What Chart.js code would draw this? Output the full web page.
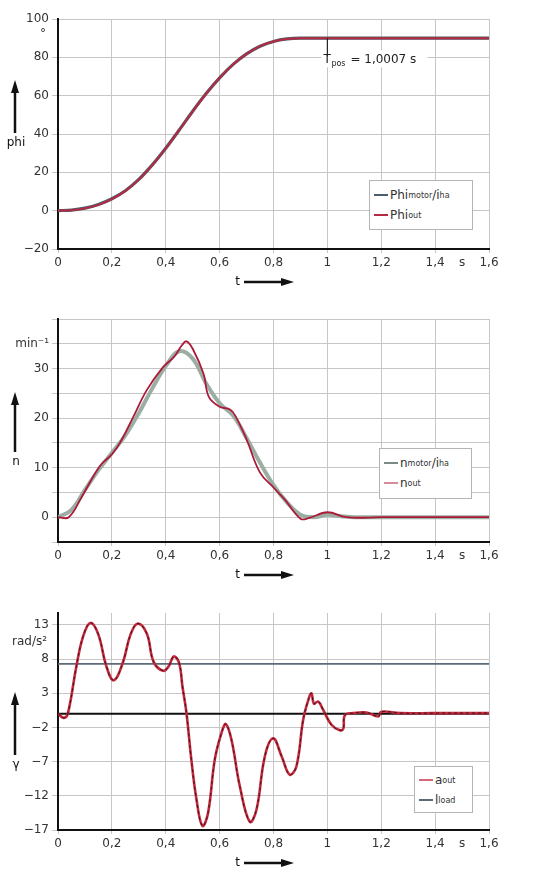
<!DOCTYPE html>
<html>
<head>
<meta charset="utf-8">
<script src="https://cdn.jsdelivr.net/npm/chart.js@4.4.1/dist/chart.umd.min.js"></script>
<style>
body { margin: 0; background: #fff; width: 534px; height: 888px; position: relative; overflow: hidden; font-family: "DejaVu Sans", sans-serif; }
.panel { position: absolute; left: 0; width: 534px; height: 296px; }
.legend { position: absolute; background: #fff; border: 1px solid #b4b4b4; font-size: 12px; color: #333; box-sizing: border-box; padding: 4px 4px; }
.legend div { display: flex; align-items: center; height: 20px; white-space: nowrap; }
.legend i { display: inline-block; width: 14px; height: 0; border-top: 2px solid; margin-right: 2px; }
.legend sub { font-size: 8px; }
</style>
</head>
<body>
<div class="panel" style="top:0"><canvas id="phiChart" width="534" height="296"></canvas></div>
<div class="panel" style="top:296px"><canvas id="nChart" width="534" height="296"></canvas></div>
<div class="panel" style="top:592px"><canvas id="aChart" width="534" height="296"></canvas></div>

<div class="legend" style="left:369px;top:180px;width:104px;height:50px">
  <div><i style="border-color:#4c5c6c"></i>Phi<sub>motor</sub>/i<sub>ha</sub></div>
  <div><i style="border-color:#b52a40"></i>Phi<sub>out</sub></div>
</div>
<div class="legend" style="left:379px;top:448px;width:93px;height:51px">
  <div><i style="border-color:#7b8a86"></i>n<sub>motor</sub>/i<sub>ha</sub></div>
  <div><i style="border-color:#d98a98"></i>n<sub>out</sub></div>
</div>
<div class="legend" style="left:414px;top:766px;width:59px;height:47px;padding:3px 4px">
  <div><i style="border-color:#d66a7a"></i>a<sub>out</sub></div>
  <div><i style="border-color:#5a6a78"></i>l<sub>load</sub></div>
</div>

<script>
// x axis (time, s)
const tTicks = [0, 0.2, 0.4, 0.6, 0.8, 1, 1.2, 1.4, 1.5, 1.6];
const tLabels = ['0', '0,2', '0,4', '0,6', '0,8', '1', '1,2', '1,4', 's', '1,6'];

// panel 1: position phi
const phiTicks = [-20, 0, 20, 40, 60, 80, 100];
const phiT = [0, 0.05, 0.1, 0.15, 0.2, 0.25, 0.3, 0.35, 0.4, 0.45, 0.5, 0.55, 0.6, 0.65, 0.7, 0.75, 0.8, 0.85, 0.9, 1.0, 1.2, 1.4, 1.6];
const phiMotor = [0, 0.3, 1.3, 3.2, 6.2, 10.4, 16.3, 23.9, 32.6, 42.1, 51.9, 61.1, 69.3, 76.3, 81.8, 85.8, 88.3, 89.6, 90, 90, 90, 90, 90];
const phiOut = [0, 0.2, 1.2, 3, 6, 10.3, 16.2, 23.8, 32.5, 42, 51.8, 61, 69.3, 76.3, 81.8, 85.8, 88.3, 89.6, 90, 90, 90, 90, 90];

// panel 2: speed n
const nTicks = [-5, 0, 5, 10, 15, 20, 25, 30, 35, 40];
const nMotorT = [0, 0.05, 0.1, 0.15, 0.2, 0.25, 0.3, 0.35, 0.4, 0.45, 0.5, 0.55, 0.6, 0.65, 0.7, 0.75, 0.8, 0.85, 0.9, 0.95, 1.0, 1.05, 1.1, 1.6];
const nMotor = [0, 1.5, 5.5, 9.5, 13, 16.5, 21, 26, 30.5, 33.5, 32, 27, 23, 20.5, 16, 11, 6.5, 3, 0.5, 0, 0.5, 0.2, 0, 0];
const nOutT = [0, 0.04, 0.09, 0.155, 0.2, 0.23, 0.28, 0.33, 0.39, 0.43, 0.46, 0.477, 0.5, 0.54, 0.56, 0.6, 0.64, 0.66, 0.7, 0.75, 0.8, 0.84, 0.9, 0.93, 1.0, 1.07, 1.2, 1.6];
const nOut = [0, 0, 4.3, 10.3, 12.7, 15, 20.3, 25.7, 30.3, 32.3, 34.7, 35.5, 34, 29, 24.3, 22.3, 21.7, 20.3, 15.7, 9, 6, 3.7, -0.3, -0.2, 1, 0, 0, 0];

// panel 3: acceleration
const aTicks = [-17, -12, -7, -2, 3, 8, 13];
const aT = [0, 0.022, 0.037, 0.068, 0.093, 0.12, 0.149, 0.18, 0.207, 0.24, 0.27, 0.297, 0.33, 0.355, 0.39, 0.41, 0.43, 0.45, 0.462, 0.477, 0.495, 0.514, 0.536, 0.557, 0.582, 0.607, 0.623, 0.644, 0.675, 0.712, 0.737, 0.768, 0.799, 0.83, 0.86, 0.885, 0.91, 0.929, 0.941, 0.95, 0.966, 0.984, 1.015, 1.046, 1.059, 1.065, 1.096, 1.145, 1.189, 1.2, 1.27, 1.39, 1.6];
const aOut = [0, -0.6, 0.1, 6.9, 11.3, 13.3, 11.7, 6.9, 4.9, 7.4, 11.7, 13.2, 11.7, 7.6, 6.3, 6.9, 8.4, 7.4, 4.0, 0.1, -6.7, -12.5, -16.4, -14.5, -6.7, -2.8, -1.5, -3.8, -10.6, -15.8, -14, -6.2, -3.6, -6.2, -8.9, -7.7, -0.9, 2.0, 3.0, 1.5, 1.8, 0.6, -1.6, -2.4, -2.2, -0.2, 0.1, 0.2, -0.4, 0.3, 0.1, 0.1, 0.1];
const loadT = [0, 1.6];
const lLoad = [7.3, 7.3];
const zeroLine = [0, 0];

const pts = (xs, ys) => xs.map((x, i) => ({ x: x, y: ys[i] }));
const FONT = '"DejaVu Sans", sans-serif';

function drawArrow(ctx, x1, y1, x2, y2) {
    const ang = Math.atan2(y2 - y1, x2 - x1);
    ctx.lineWidth = 2.5;
    ctx.beginPath();
    ctx.moveTo(x1, y1);
    ctx.lineTo(x2 - 8 * Math.cos(ang), y2 - 8 * Math.sin(ang));
    ctx.stroke();
    ctx.beginPath();
    ctx.moveTo(x2, y2);
    ctx.lineTo(x2 - 13 * Math.cos(ang) + 4 * Math.sin(ang), y2 - 13 * Math.sin(ang) - 4 * Math.cos(ang));
    ctx.lineTo(x2 - 13 * Math.cos(ang) - 4 * Math.sin(ang), y2 - 13 * Math.sin(ang) + 4 * Math.cos(ang));
    ctx.closePath();
    ctx.fill();
}

// axis arrows, units and the T_pos note
const decor = {
    id: 'decor',
    afterDraw(chart, args, o) {
        const { ctx, chartArea: a, scales } = chart;
        ctx.save();
        ctx.fillStyle = '#111';
        ctx.strokeStyle = '#111';
        drawArrow(ctx, 15, a.top + o.yArrow[1], 15, a.top + o.yArrow[0]);
        ctx.font = '12px ' + FONT;
        ctx.textAlign = 'center';
        ctx.textBaseline = 'top';
        ctx.fillText(o.yLabel, 16, a.top + o.yArrow[1] + 4);

        const y = a.bottom + 33;
        ctx.textAlign = 'right';
        ctx.textBaseline = 'middle';
        ctx.fillText('t', 240, y);
        drawArrow(ctx, 244, y, 294, y);

        if (o.unit) {
            ctx.fillStyle = '#333';
            ctx.textAlign = 'right';
            ctx.fillText(o.unit.text, o.unit.x, scales.y.getPixelForValue(o.unit.value));
        }
        if (o.note) {
            const x = scales.x.getPixelForValue(o.note.x);
            const yTop = scales.y.getPixelForValue(o.note.from);
            const yText = scales.y.getPixelForValue(80) + 2;
            ctx.fillStyle = '#fff';
            ctx.fillRect(x - 6, yText - 9, 106, 17);
            ctx.strokeStyle = '#222';
            ctx.lineWidth = 1.2;
            ctx.beginPath();
            ctx.moveTo(x, yTop);
            ctx.lineTo(x, yText - 3);
            ctx.stroke();
            ctx.fillStyle = '#222';
            ctx.textAlign = 'left';
            ctx.textBaseline = 'middle';
            ctx.font = '12px ' + FONT;
            ctx.fillText('T', x - 4, yText + 1);
            ctx.font = '8px ' + FONT;
            ctx.fillText('pos', x + 4, yText + 5);
            ctx.font = '12px ' + FONT;
            ctx.fillText('= 1,0007 s', x + 23, yText + 1);
        }
        ctx.restore();
    }
};

function makeOptions(p) {
    return {
        responsive: false,
        animation: false,
        layout: { padding: { top: p.top, right: 45, bottom: p.bottom, left: 0 } },
        plugins: { legend: { display: false }, tooltip: { enabled: false }, decor: p.decor },
        elements: { point: { radius: 0 } },
        scales: {
            x: {
                type: 'linear', min: 0, max: 1.6,
                afterBuildTicks: s => { s.ticks = tTicks.map(v => ({ value: v })); },
                afterFit: s => { s.height = 30; },
                ticks: { autoSkip: false, maxRotation: 0, color: '#333', font: { size: 12, family: FONT }, padding: 3,
                    callback: (v, i) => tLabels[i] },
                grid: { color: c => (c.tick && c.tick.value === 1.5) ? 'rgba(0,0,0,0)' : '#c6c6c6', lineWidth: 1, tickLength: 4 },
                border: { color: '#111', width: 2 }
            },
            y: {
                type: 'linear', min: p.yMin, max: p.yMax,
                afterBuildTicks: s => { s.ticks = p.yTicks.map(v => ({ value: v })); },
                afterFit: s => { s.width = 58; },
                ticks: { autoSkip: false, color: '#333', font: { size: 12, family: FONT }, padding: 3, callback: p.yLabel },
                grid: { color: '#c6c6c6', lineWidth: 1, tickLength: 6 },
                border: { color: '#111', width: 2 }
            }
        }
    };
}

const minus = v => (v < 0 ? '\u2212' + Math.abs(v) : String(v));

// first dataset is drawn on top
new Chart(document.getElementById('phiChart'), {
    type: 'line',
    data: {
        datasets: [
            { label: 'Phi out', data: pts(phiT, phiOut), borderColor: '#b52a40', borderWidth: 2, cubicInterpolationMode: 'monotone' },
            { label: 'Phi motor/i ha', data: pts(phiT, phiMotor), borderColor: '#4c5c6c', borderWidth: 3.2, cubicInterpolationMode: 'monotone' }
        ]
    },
    options: makeOptions({
        top: 19, bottom: 17, yMin: -20, yMax: 100, yTicks: phiTicks, yLabel: v => minus(v),
        decor: { yLabel: 'phi', yArrow: [61, 114], unit: { text: '°', x: 46, value: 92.5 }, note: { x: 1, from: 90 } }
    }),
    plugins: [decor]
});

new Chart(document.getElementById('nChart'), {
    type: 'line',
    data: {
        datasets: [
            { label: 'n out', data: pts(nOutT, nOut), borderColor: '#ad1a38', borderWidth: 1.8, tension: 0.4 },
            { label: 'n motor/i ha', data: pts(nMotorT, nMotor), borderColor: '#9aaea4', borderWidth: 4, tension: 0.4 }
        ]
    },
    options: makeOptions({
        top: 23, bottom: 20, yMin: -5, yMax: 40, yTicks: nTicks,
        yLabel: v => (v === 35 ? 'min\u207B\u00B9' : (v >= 0 && v <= 30 && v % 10 === 0 ? String(v) : '')),
        decor: { yLabel: 'n', yArrow: [73, 133] }
    }),
    plugins: [decor]
});

new Chart(document.getElementById('aChart'), {
    type: 'line',
    data: {
        datasets: [
            { label: 'a out ref', data: pts(aT, aOut), borderColor: '#3a1418', borderWidth: 1, borderDash: [3, 3], tension: 0.4 },
            { label: 'a out', data: pts(aT, aOut), borderColor: '#c4283c', borderWidth: 2.6, tension: 0.4 },
            { label: 'l load', data: pts(loadT, lLoad), borderColor: '#5a6a78', borderWidth: 1.6 },
            { label: 'zero', data: pts(loadT, zeroLine), borderColor: '#111', borderWidth: 2 }
        ]
    },
    options: makeOptions({
        top: 21, bottom: 28, yMin: -17, yMax: 14.75, yTicks: aTicks, yLabel: v => minus(v),
        decor: { yLabel: '\u03B3', yArrow: [79, 142], unit: { text: 'rad/s\u00B2', x: 47, value: 10.5 } }
    }),
    plugins: [decor]
});
</script>
</body>
</html>
